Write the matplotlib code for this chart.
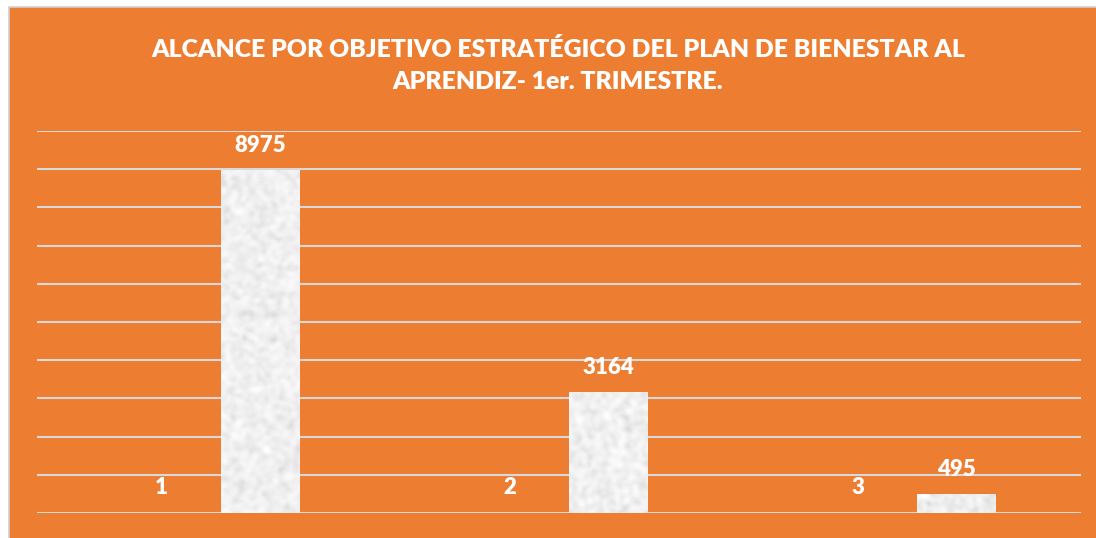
import numpy as np
import matplotlib
matplotlib.use("Agg")
import matplotlib.pyplot as plt
from matplotlib.patches import Rectangle

# Alcance por objetivo estratégico - 1er trimestre
objetivos = [1, 2, 3]
alcance = [8975, 3164, 495]
categorias = [0, 1, 2]

ORANGE = "#ED7D31"
GRID = "#d9d9d9"

plt.rcParams['font.family'] = ['Lato', 'DejaVu Sans']


# granite-like texture for the bars (made larger, then cropped to avoid dark borders)
def granite(h, w, seed, pad=10):
    rng = np.random.default_rng(seed)
    img = rng.random((h + 2 * pad, w + 2 * pad))
    k = np.ones(5) / 5
    for _ in range(2):
        img = np.apply_along_axis(lambda r: np.convolve(r, k, mode="same"), 0, img)
        img = np.apply_along_axis(lambda r: np.convolve(r, k, mode="same"), 1, img)
    img = img[pad:pad + h, pad:pad + w]
    img = img + 0.35 * rng.random((h, w)) * img.std()
    img = (img - img.min()) / (img.max() - img.min())
    return 0.84 + 0.16 * img ** 0.6


fig = plt.figure(figsize=(10.96, 5.38), dpi=100)
fig.patch.set_facecolor("white")
fig.patches.append(Rectangle((8.5 / 1096, -0.01), 1.02, (538 - 6.5) / 538 + 0.01,
                             transform=fig.transFigure, facecolor=ORANGE,
                             edgecolor="#cfcfcf", linewidth=1.2, zorder=-5))

ax = fig.add_axes([37 / 1096, 1 - 513 / 538, (1081 - 37) / 1096, (513 - 131) / 538])
ax.set_facecolor("none")
ax.set_xlim(-0.5, 2.5)
ax.set_ylim(0, 10000)
ax.set_yticks(np.arange(0, 10001, 1000))
ax.yaxis.grid(True, color=GRID, linewidth=1.5)
ax.set_axisbelow(True)
for s in ax.spines.values():
    s.set_visible(False)
ax.tick_params(left=False, bottom=False, labelleft=False, labelbottom=False)

width = 0.225
off = 0.142
x = np.array(categorias)
b1 = ax.bar(x - off, objetivos, width, color="#e6c9a8", zorder=2)
b2 = ax.bar(x + off, alcance, width, color="#f0f0f0", zorder=2)

for i, r in enumerate(list(b1) + list(b2)):
    x0, w, h = r.get_x(), r.get_width(), r.get_height()
    px_h = max(int(h / 10000 * 382), 8)
    tex = granite(px_h, 78, seed=i)
    im = ax.imshow(tex, cmap="gray", vmin=0, vmax=1, extent=(x0, x0 + w, 0, h),
                   aspect="auto", interpolation="bilinear", zorder=3)
    im.set_clip_path(r)

for bars, vals in ((b1, objetivos), (b2, alcance)):
    for r, v in zip(bars, vals):
        ax.annotate(str(v), (r.get_x() + r.get_width() / 2, r.get_height()),
                    xytext=(0, 18), textcoords="offset points",
                    ha="center", va="center", color="white",
                    fontsize=16, fontweight="heavy", zorder=4)

fig.text(558 / 1096, 1 - 65.5 / 538,
         "ALCANCE POR OBJETIVO ESTRATÉGICO DEL PLAN DE BIENESTAR AL\nAPRENDIZ- 1er. TRIMESTRE.",
         ha="center", va="center", color="white", fontsize=17.8, fontweight="heavy",
         linespacing=1.57)

fig.savefig("out.png", dpi=100, facecolor=fig.get_facecolor())
